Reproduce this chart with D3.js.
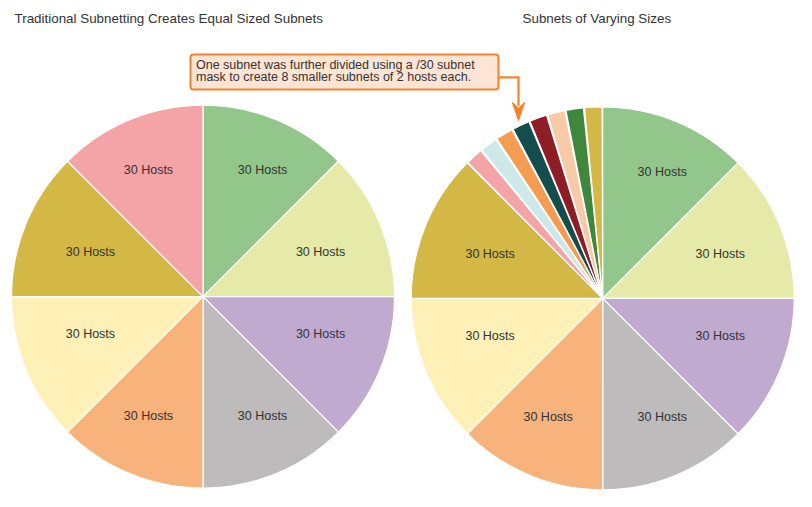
<!DOCTYPE html>
<html>
<head>
<meta charset="utf-8">
<script src="https://cdn.jsdelivr.net/npm/d3@7"></script>
<style>
  html, body { margin: 0; padding: 0; background: #fff; }
  svg { display: block; font-family: "Liberation Sans", Arial, sans-serif; }
</style>
</head>
<body>
<script>
// left pie: eight equal /27 subnets (32 addresses, 30 usable hosts)
const leftSizes  = [32, 32, 32, 32, 32, 32, 32, 32];
const leftLabels = ["30 Hosts", "30 Hosts", "30 Hosts", "30 Hosts",
                    "30 Hosts", "30 Hosts", "30 Hosts", "30 Hosts"];
const leftColors = ["#93c68b", "#e5eaa8", "#c1aad0", "#bdbbbb",
                    "#f8b27c", "#fef1b8", "#d4b846", "#f4a4a6"];

// right pie: seven /27 subnets, the last one split into eight /30 (4 addresses, 2 hosts)
const rightSizes  = [32, 32, 32, 32, 32, 32, 32, 4, 4, 4, 4, 4, 4, 4, 4];
const rightLabels = ["30 Hosts", "30 Hosts", "30 Hosts", "30 Hosts",
                     "30 Hosts", "30 Hosts", "30 Hosts",
                     "", "", "", "", "", "", "", ""];
const rightColors = ["#93c68b", "#e5eaa8", "#c1aad0", "#bdbbbb",
                     "#f8b27c", "#fef1b8", "#d4b846",
                     "#f4a4a6", "#cde8e8", "#f59c52", "#154c4c",
                     "#8f1d25", "#f9caa6", "#3f873c", "#d4b846"];

const titles = ["Traditional Subnetting Creates Equal Sized Subnets", "Subnets of Varying Sizes"];
const calloutLines = ["One subnet was further divided using a /30 subnet",
                      "mask to create 8 smaller subnets of 2 hosts each."];

const width = 812, height = 507;
const radius = 191.5;

const svg = d3.select("body").append("svg")
  .attr("width", width)
  .attr("height", height);

// titles
svg.selectAll("text.title")
  .data(titles)
  .join("text")
  .attr("class", "title")
  .attr("x", (d, i) => i === 0 ? 14.5 : 522.5)
  .attr("y", 23)
  .attr("fill", "#333")
  .style("font-size", "13.4px")
  .text(d => d);

const pie = d3.pie().sort(null).value(d => d.size);
const arc = d3.arc().innerRadius(0).outerRadius(radius);

// labels sit a bit squarer than a plain centroid: pushed sideways near
// the vertical axis and pulled in toward the horizontal one
function labelPos(d) {
  const a = (d.startAngle + d.endAngle) / 2;
  const s = Math.sin(a), c = Math.cos(a);
  const x = Math.sign(s) * (0.56 * radius * Math.abs(s) + 16);
  const y = -Math.sign(c) * (0.79 * radius * Math.abs(c) - 17);
  return [x + 2.5, y - 4];
}

function drawPie(cx, cy, sizes, labels, colors) {
  const rows = sizes.map((s, i) => ({size: s, label: labels[i], color: colors[i]}));
  const g = svg.append("g").attr("transform", `translate(${cx},${cy})`);
  const arcs = pie(rows);

  g.selectAll("path")
    .data(arcs)
    .join("path")
    .attr("d", d => {
      // the small /30 slices are drawn with a thin gap around them
      if (d.data.size < 32) {
        const gap = 0.003;
        return arc({...d, startAngle: d.startAngle + gap, endAngle: d.endAngle - gap});
      }
      return arc(d);
    })
    .attr("fill", d => d.data.color)
    .attr("stroke", "#fff")
    .attr("stroke-width", 1.2)
    .attr("stroke-linejoin", "round");

  g.selectAll("text")
    .data(arcs.filter(d => d.data.label))
    .join("text")
    .attr("transform", d => `translate(${labelPos(d)})`)
    .attr("text-anchor", "middle")
    .attr("dy", "0.35em")
    .attr("fill", "#333")
    .style("font-size", "12.5px")
    .text(d => d.data.label);
}

drawPie(203, 296.7, leftSizes, leftLabels, leftColors);
drawPie(602.7, 298.3, rightSizes, rightLabels, rightColors);

// callout box and arrow
const orange = "#f5822a";
const callout = svg.append("g");

callout.append("path")
  .attr("d", "M498,77.3 H518.5 V106")
  .attr("fill", "none")
  .attr("stroke", orange)
  .attr("stroke-width", 2.2);

callout.append("path")
  .attr("d", "M518.5,120.5 L512.3,102.5 L518.5,108 L524.7,102.5 Z")
  .attr("fill", orange)
  .attr("stroke", orange)
  .attr("stroke-width", 1)
  .attr("stroke-linejoin", "round");

callout.append("rect")
  .attr("x", 190.5)
  .attr("y", 54.5)
  .attr("width", 308)
  .attr("height", 35)
  .attr("rx", 3)
  .attr("fill", "#fde4d4")
  .attr("stroke", orange)
  .attr("stroke-width", 2);

callout.append("text")
  .attr("fill", "#333")
  .style("font-size", "12.5px")
  .selectAll("tspan")
  .data(calloutLines)
  .join("tspan")
  .attr("x", 196)
  .attr("y", (d, i) => 69 + i * 11.6)
  .text(d => d);
</script>
</body>
</html>
